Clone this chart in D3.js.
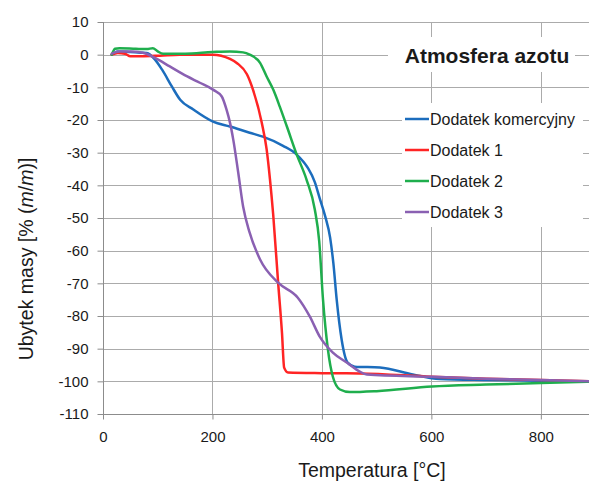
<!DOCTYPE html>
<html>
<head>
<meta charset="utf-8">
<script src="https://cdn.jsdelivr.net/npm/d3@7"></script>
<style>
  html, body { margin: 0; padding: 0; background: #fff; }
  svg { display: block; }
  text { font-family: "Liberation Sans", Arial, sans-serif; fill: #1a1a1a; }
</style>
</head>
<body>
<svg id="chart" width="589" height="483"></svg>
<script>
// ---- data ----
const seriesNames = ["Dodatek komercyjny", "Dodatek 1", "Dodatek 2", "Dodatek 3"];
const seriesColors = ["#1c6dbd", "#ff2424", "#1fae4d", "#8a60b2"];

const komercyjnyT = [16, 27, 50, 68, 80, 95, 108, 126, 141, 165, 201, 232, 268, 292, 329, 354, 374, 387, 396, 406, 415, 421, 427, 436, 447, 460, 506, 566, 615, 700, 800, 888];
const komercyjnyV = [0, 1, 0.8, 0.6, 0.5, -1.5, -4.6, -9.8, -13.8, -16.8, -20.5, -22, -23.9, -25.1, -27.9, -30.6, -34.6, -39, -44, -49.5, -56, -64, -75, -87.2, -94.3, -95.5, -95.8, -97.9, -99.3, -99.6, -99.8, -100.1];

const dodatek1T = [16, 27, 40, 50, 70, 104, 140, 200, 232, 245, 263, 274, 290, 299, 305, 311, 320, 327, 331, 338, 400, 469, 601, 700, 800, 888];
const dodatek1V = [0, 0.5, 0.3, -0.5, -0.5, -0.3, 0, 0, -1.3, -2.6, -6, -10.7, -20.8, -29, -38, -49, -69.8, -85.1, -95.8, -97.3, -97.5, -97.6, -98.6, -99.2, -99.6, -100];

const dodatek2T = [16, 22, 30, 60, 80, 91, 100, 110, 150, 200, 232, 256, 268, 287, 299, 311, 323, 336, 354, 372, 387, 395, 402, 411, 420, 433, 451, 500, 601, 700, 800, 888];
const dodatek2V = [0, 1.8, 2, 1.8, 1.7, 2, 1, 0.3, 0.3, 0.8, 1, 0.7, 0, -2.5, -6.7, -10.7, -15.9, -22, -30.6, -38.3, -47.4, -57, -75, -90.3, -98.6, -102.5, -103.3, -103, -101.6, -101, -100.5, -100.1];

const dodatek3T = [16, 30, 50, 73, 95, 122, 153, 177, 201, 217, 226, 232, 238, 247, 256, 268, 287, 320, 356, 378, 396, 420, 446, 469, 482, 601, 700, 800, 888];
const dodatek3V = [0.3, 1, 1, 0.6, -1, -3.6, -6.6, -8.6, -10.7, -12.8, -17, -20.8, -26, -36, -46.5, -54.5, -62.7, -69.8, -74.4, -80.2, -86.3, -91.2, -94.3, -97, -97.9, -98.6, -99.2, -99.6, -100];

const xTicks = [0, 200, 400, 600, 800];
const yTicks = [10, 0, -10, -20, -30, -40, -50, -60, -70, -80, -90, -100, -110];

const chartTitle = "Atmosfera azotu";
const xTitle = "Temperatura [°C]";

// ---- build ----
const seriesT = [komercyjnyT, dodatek1T, dodatek2T, dodatek3T];
const seriesV = [komercyjnyV, dodatek1V, dodatek2V, dodatek3V];
const series = seriesNames.map((name, i) => ({
  name, color: seriesColors[i],
  points: seriesT[i].map((t, j) => [t, seriesV[i][j]])
}));

const svg = d3.select("#chart");
const x = d3.scaleLinear().domain([0, 888]).range([103, 589]);
const y = d3.scaleLinear().domain([-110, 10]).range([414, 22]);

const gridColor = "#ababab";
const axisColor = "#8c8c8c";

// horizontal gridlines
svg.append("g").selectAll("line").data(yTicks.filter(d => d !== -110)).join("line")
  .attr("x1", x(0)).attr("x2", 589)
  .attr("y1", d => Math.round(y(d)) + 0.5).attr("y2", d => Math.round(y(d)) + 0.5)
  .attr("stroke", gridColor).attr("stroke-width", 1);

// vertical gridlines
svg.append("g").selectAll("line").data(xTicks.filter(d => d !== 0)).join("line")
  .attr("y1", y(10)).attr("y2", y(-110))
  .attr("x1", d => Math.round(x(d)) + 0.5).attr("x2", d => Math.round(x(d)) + 0.5)
  .attr("stroke", gridColor).attr("stroke-width", 1);

// axes
const fmt = d => String(d);
const yAxis = d3.axisLeft(y).tickValues(yTicks).tickSize(6).tickPadding(9).tickFormat(fmt);
const gy = svg.append("g").attr("transform", `translate(${Math.round(x(0)) + 0.5},0)`).call(yAxis);
const xAxis = d3.axisBottom(x).tickValues(xTicks).tickSize(5).tickPadding(12).tickFormat(fmt);
const gx = svg.append("g").attr("transform", `translate(0,${Math.round(y(-110)) + 0.5})`).call(xAxis);

[gx, gy].forEach(g => {
  g.select(".domain").attr("stroke", axisColor);
  g.selectAll(".tick line").attr("stroke", axisColor);
  g.selectAll(".tick text").attr("font-size", 15).attr("fill", "#1a1a1a")
    .attr("font-family", '"Liberation Sans", Arial, sans-serif');
});
gx.select(".domain").attr("d", `M${x(0)},0H589`);
gy.select(".domain").attr("d", `M0,${y(10)}V${y(-110)}`);

// title box
svg.append("rect").attr("x", 388).attr("y", 37).attr("width", 187).attr("height", 35).attr("fill", "#fff");
svg.append("text").attr("x", 487).attr("y", 63).attr("text-anchor", "middle")
  .attr("font-size", 21).attr("font-weight", "bold").attr("fill", "#000").text(chartTitle);

// legend
svg.append("rect").attr("x", 402).attr("y", 103).attr("width", 181).attr("height", 124).attr("fill", "#fff");
const lg = svg.append("g").selectAll("g").data(series).join("g")
  .attr("transform", (d, i) => `translate(405,${119 + i * 31})`);
lg.append("line").attr("x1", 0).attr("x2", 24).attr("y1", 0).attr("y2", 0)
  .attr("stroke", d => d.color).attr("stroke-width", 2.5);
lg.append("text").attr("x", 25).attr("y", 5.5).attr("font-size", 16).text(d => d.name);

// lines
const line = d3.line().x(d => x(d[0])).y(d => y(d[1])).curve(d3.curveMonotoneX);
svg.append("g").selectAll("path").data(series).join("path")
  .attr("d", d => line(d.points))
  .attr("fill", "none").attr("stroke", d => d.color).attr("stroke-width", 2.5)
  .attr("stroke-linejoin", "round").attr("stroke-linecap", "round");

// axis titles
svg.append("text").attr("x", 372).attr("y", 477).attr("text-anchor", "middle")
  .attr("font-size", 19.5).text(xTitle);
const yt = svg.append("text").attr("transform", "translate(33,259) rotate(-90)")
  .attr("text-anchor", "middle").attr("font-size", 19.5);
yt.append("tspan").text("Ubytek masy [% (");
yt.append("tspan").attr("font-style", "italic").text("m");
yt.append("tspan").text("/");
yt.append("tspan").attr("font-style", "italic").text("m");
yt.append("tspan").text(")]");
</script>
</body>
</html>
